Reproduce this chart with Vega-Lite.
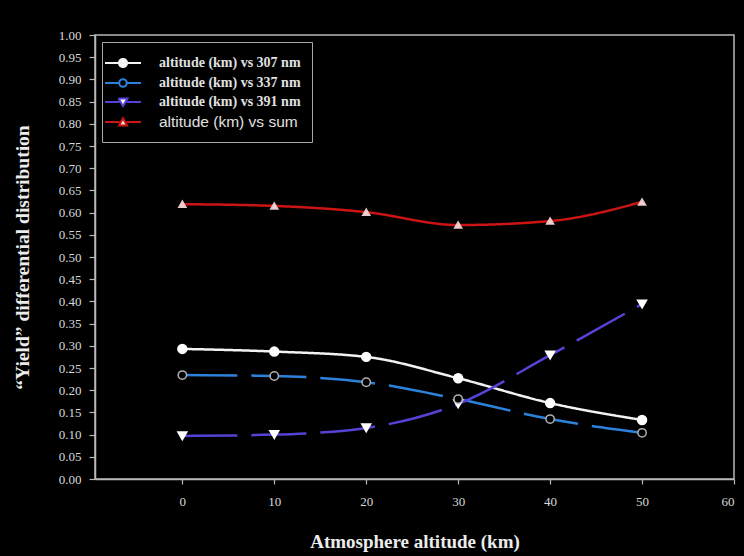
{
  "$schema": "https://vega.github.io/schema/vega-lite/v6.json",
  "width": 639,
  "height": 444,
  "autosize": {"type": "none"},
  "padding": {"left": 95, "top": 35, "right": 10, "bottom": 77},
  "background": "#000000",
  "config": {
    "view": {"stroke": "#b8b8b8", "strokeWidth": 1.5, "fill": "#000000"},
    "axis": {
      "grid": false,
      "domainColor": "#b8b8b8",
      "domainWidth": 1.5,
      "tickColor": "#b8b8b8",
      "tickWidth": 1.2,
      "labelColor": "#d8d8d8",
      "labelFont": "Liberation Serif",
      "labelFontSize": 13,
      "titleColor": "#ececec",
      "titleFont": "Liberation Serif",
      "titleFontWeight": "bold"
    }
  },
  "data": {
    "values": [
      {"series": "altitude (km) vs 307 nm", "altitude": 0, "value": 0.293},
      {"series": "altitude (km) vs 307 nm", "altitude": 10, "value": 0.287},
      {"series": "altitude (km) vs 307 nm", "altitude": 20, "value": 0.275},
      {"series": "altitude (km) vs 307 nm", "altitude": 30, "value": 0.227},
      {"series": "altitude (km) vs 307 nm", "altitude": 40, "value": 0.171},
      {"series": "altitude (km) vs 307 nm", "altitude": 50, "value": 0.133},
      {"series": "altitude (km) vs 337 nm", "altitude": 0, "value": 0.234},
      {"series": "altitude (km) vs 337 nm", "altitude": 10, "value": 0.232},
      {"series": "altitude (km) vs 337 nm", "altitude": 20, "value": 0.218},
      {"series": "altitude (km) vs 337 nm", "altitude": 30, "value": 0.180},
      {"series": "altitude (km) vs 337 nm", "altitude": 40, "value": 0.135},
      {"series": "altitude (km) vs 337 nm", "altitude": 50, "value": 0.104},
      {"series": "altitude (km) vs 391 nm", "altitude": 0, "value": 0.097},
      {"series": "altitude (km) vs 391 nm", "altitude": 10, "value": 0.100},
      {"series": "altitude (km) vs 391 nm", "altitude": 20, "value": 0.115},
      {"series": "altitude (km) vs 391 nm", "altitude": 30, "value": 0.169},
      {"series": "altitude (km) vs 391 nm", "altitude": 40, "value": 0.279},
      {"series": "altitude (km) vs 391 nm", "altitude": 50, "value": 0.394},
      {"series": "altitude (km) vs sum", "altitude": 0, "value": 0.619},
      {"series": "altitude (km) vs sum", "altitude": 10, "value": 0.615},
      {"series": "altitude (km) vs sum", "altitude": 20, "value": 0.601},
      {"series": "altitude (km) vs sum", "altitude": 30, "value": 0.572},
      {"series": "altitude (km) vs sum", "altitude": 40, "value": 0.581},
      {"series": "altitude (km) vs sum", "altitude": 50, "value": 0.624}
    ]
  },
  "encoding": {
    "x": {
      "field": "altitude",
      "type": "quantitative",
      "scale": {"domain": [-9.5, 60], "nice": false, "zero": false},
      "axis": {
        "values": [0, 10, 20, 30, 40, 50, 60],
        "title": "Atmosphere altitude (km)",
        "titleFontSize": 19,
        "tickSize": 5,
        "labelPadding": 11,
        "titlePadding": 24
      }
    },
    "y": {
      "field": "value",
      "type": "quantitative",
      "scale": {"domain": [0, 1], "nice": false},
      "axis": {
        "values": [0, 0.05, 0.1, 0.15, 0.2, 0.25, 0.3, 0.35, 0.4, 0.45, 0.5, 0.55, 0.6, 0.65, 0.7, 0.75, 0.8, 0.85, 0.9, 0.95, 1],
        "format": ".2f",
        "title": "“Yield” differential distribution",
        "titleFontSize": 19.5,
        "tickSize": 6,
        "labelPadding": 8,
        "titlePadding": 26
      }
    }
  },
  "layer": [
    {
      "mark": {"type": "line", "interpolate": "monotone", "strokeWidth": 2.5},
      "encoding": {
        "color": {
          "field": "series",
          "type": "nominal",
          "scale": {
            "domain": ["altitude (km) vs 307 nm", "altitude (km) vs 337 nm", "altitude (km) vs 391 nm", "altitude (km) vs sum"],
            "range": ["#f2f2f2", "#2c82da", "#5543d6", "#cc1414"]
          },
          "legend": {
            "orient": "top-left",
            "offset": 7,
            "title": null,
            "padding": 11,
            "strokeColor": "#a8a8a8",
            "fillColor": "#000000",
            "symbolSize": 324,
            "symbolStrokeWidth": 2,
            "labelColor": "#e0e0e0",
            "labelFont": "Liberation Serif",
            "labelFontSize": 14,
            "labelOffset": 26,
            "labelLimit": 0,
            "rowPadding": 1,
            "encode": {
              "symbols": {
                "update": {
                  "shape": {"signal": "datum.value == 'altitude (km) vs 307 nm' ? 'M-2,0H2M-0.45,0A0.45,0.45 0 1,0 0.45,0A0.45,0.45 0 1,0 -0.45,0Z' : datum.value == 'altitude (km) vs 337 nm' ? 'M-2,0H-0.42M0.42,0H2M-0.42,0A0.42,0.42 0 1,0 0.42,0A0.42,0.42 0 1,0 -0.42,0Z' : datum.value == 'altitude (km) vs 391 nm' ? 'M-2,0H-0.4M0.4,0H2M-0.5,-0.4L0.5,-0.4L0,0.45Z' : 'M-2,0H-0.4M0.4,0H2M-0.45,0.38L0.45,0.38L0,-0.42Z'"},
                  "fill": {"signal": "datum.value == 'altitude (km) vs 307 nm' ? '#ffffff' : datum.value == 'altitude (km) vs 337 nm' ? '#000000' : datum.value == 'altitude (km) vs 391 nm' ? '#ffffff' : '#f4d8d8'"},
                  "stroke": {"signal": "scale('color', datum.value)"},
                  "strokeDash": {"value": [1, 0]},
                  "strokeWidth": {"value": 2},
                  "size": {"value": 324},
                  "opacity": {"value": 1}
                }
              },
              "labels": {
                "update": {
                  "fontSize": {"signal": "datum.value == 'altitude (km) vs sum' ? 15.5 : 14"},
                  "font": {"signal": "datum.value == 'altitude (km) vs sum' ? 'Liberation Sans' : 'Liberation Serif'"},
                  "fontWeight": {"signal": "datum.value == 'altitude (km) vs sum' ? 'normal' : 'bold'"}
                }
              }
            }
          }
        },
        "strokeDash": {
          "field": "series",
          "type": "nominal",
          "scale": {
            "domain": ["altitude (km) vs 307 nm", "altitude (km) vs 337 nm", "altitude (km) vs 391 nm", "altitude (km) vs sum"],
            "range": [[1, 0], [55, 14], [55, 14], [1, 0]]
          },
          "legend": null
        }
      }
    },
    {
      "transform": [{"filter": "datum.series == 'altitude (km) vs sum'"}],
      "mark": {"type": "point", "shape": "triangle-up", "filled": true, "fill": "#f0d4d4", "stroke": "#e8c8c8", "strokeWidth": 1.5, "size": 50, "opacity": 1}
    },
    {
      "transform": [{"filter": "datum.series == 'altitude (km) vs 391 nm'"}],
      "mark": {"type": "point", "shape": "triangle-down", "filled": true, "fill": "#ffffff", "stroke": "#ffffff", "strokeWidth": 1.5, "size": 80, "opacity": 1}
    },
    {
      "transform": [{"filter": "datum.series == 'altitude (km) vs 337 nm'"}],
      "mark": {"type": "point", "shape": "circle", "filled": true, "fill": "#000000", "stroke": "#b0b0b0", "strokeWidth": 1.5, "size": 70, "opacity": 1}
    },
    {
      "transform": [{"filter": "datum.series == 'altitude (km) vs 307 nm'"}],
      "mark": {"type": "point", "shape": "circle", "filled": true, "fill": "#ffffff", "stroke": "#ffffff", "strokeWidth": 1.5, "size": 80, "opacity": 1}
    }
  ]
}
